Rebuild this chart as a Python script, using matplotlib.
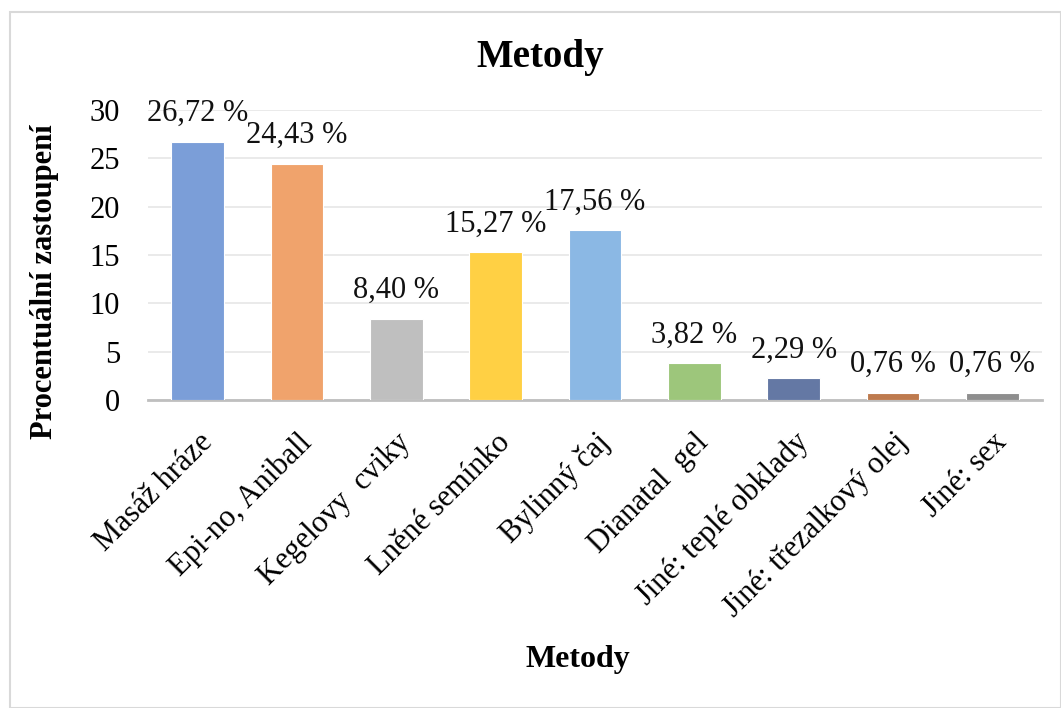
import matplotlib
matplotlib.use("Agg")
import matplotlib.pyplot as plt
from matplotlib.patches import Rectangle

categories = ["Masáž hráze", "Epi-no, Aniball", "Kegelovy  cviky", "Lněné semínko",
              "Bylinný čaj", "Dianatal  gel", "Jiné: teplé obklady",
              "Jiné: třezalkový olej", "Jiné: sex"]
values = [26.72, 24.43, 8.40, 15.27, 17.56, 3.82, 2.29, 0.76, 0.76]
value_labels = ["26,72 %", "24,43 %", "8,40 %", "15,27 %", "17,56 %",
                "3,82 %", "2,29 %", "0,76 %", "0,76 %"]
colors = ["#7B9ED8", "#F0A36C", "#BFBFBF", "#FFD044", "#8BB8E4",
          "#9DC67B", "#6478A4", "#BE7A4E", "#8E8E8E"]
yticks = [0, 5, 10, 15, 20, 25, 30]

plt.rcParams['font.family'] = ['Liberation Serif', 'DejaVu Serif']

fig = plt.figure(figsize=(10.61, 7.08), dpi=100)
fig.patches.append(Rectangle((10/1061, 0.0), 1 - 10/1061, 1 - 12/708,
                             transform=fig.transFigure, fill=False,
                             edgecolor="#D9D9D9", linewidth=1.5))
ax = fig.add_axes([148/1061, 1 - 400/708, (1042 - 148)/1061, (400 - 110)/708])

x = range(len(categories))
ax.bar(x, values, width=0.53, color=colors, edgecolor="white", linewidth=0.8, zorder=3)
for xi, v, lab in zip(x, values, value_labels):
    ax.text(xi, v + 1.4, lab, ha="center", va="bottom", fontsize=22, color="#111111")

ax.set_xlim(-0.5, len(categories) - 0.5)
ax.set_ylim(0, 30)
ax.set_yticks(yticks)
ax.set_yticklabels([str(t) for t in yticks], fontsize=22)
ax.set_xticks(list(x))
ax.set_xticklabels(categories, rotation=45, ha="right", rotation_mode="anchor",
                   fontsize=22)
ax.tick_params(axis="y", length=0, pad=20)
ax.tick_params(axis="x", length=0, pad=20)
ax.grid(axis="y", color="#E6E6E6", linewidth=1.2, zorder=0)
for s in ["top", "right", "left"]:
    ax.spines[s].set_visible(False)
ax.spines["bottom"].set_color("#BFBFBF")
ax.spines["bottom"].set_linewidth(2)

fig.text(540/1061, 1 - 57/708, "Metody", ha="center", va="center",
         fontsize=28, fontweight="bold")
fig.text(45/1061, 1 - 282/708, "Procentuální zastoupení", ha="center", va="center",
         rotation=90, fontsize=22, fontweight="bold")
fig.text(578/1061, 1 - 660/708, "Metody", ha="center", va="center",
         fontsize=23, fontweight="bold")

fig.savefig("out.png", dpi=100)
